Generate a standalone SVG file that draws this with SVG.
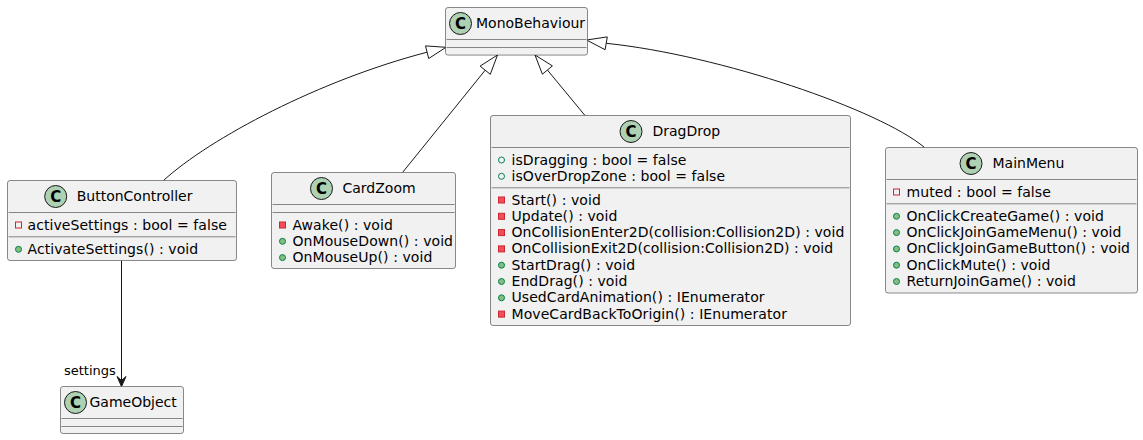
<svg xmlns="http://www.w3.org/2000/svg" width="1143" height="440" viewBox="0 0 1143 440">
<style>
text{font-family:"DejaVu Sans","Liberation Sans",sans-serif;font-size:14px;fill:#000}
.m{letter-spacing:0.07px}
.box{fill:#F1F1F1;stroke:#181818;stroke-width:0.5}
.sep{stroke:#181818;stroke-width:0.5}
.ci{fill:#ADD1B2;stroke:#181818;stroke-width:1}
.cl{font-weight:bold;font-size:15px;text-anchor:middle}
.pf{fill:none;stroke:#C82930;stroke-width:1}
.pm{fill:#F24D5C;stroke:#C82930;stroke-width:1}
.uf{fill:none;stroke:#038048;stroke-width:1}
.um{fill:#84BE84;stroke:#038048;stroke-width:1}
.edge{fill:none;stroke:#181818;stroke-width:1}
.ext{fill:#FFFFFF;stroke:#181818;stroke-width:1}
.lbl{font-size:13px}
</style>
<rect width="1143" height="440" fill="#FFFFFF"/>

<g id="connectors">
  <path class="edge" d="M163.5,180.5 C210,138 320,80 427.1,52.2"/>
  <polygon class="ext" points="446,47.3 428.7,58.5 425.5,45.9"/>
  <line class="edge" x1="402.5" y1="172.5" x2="485.2" y2="70.2"/>
  <polygon class="ext" points="497.5,55 490.3,74.3 480.1,66.1"/>
  <line class="edge" x1="585" y1="115.5" x2="547.4" y2="70"/>
  <polygon class="ext" points="535,55 552.4,65.9 542.4,74.2"/>
  <path class="edge" d="M924.5,147.5 C880,110 720,55 606.2,43.3"/>
  <polygon class="ext" points="586.5,40 607.3,36.9 605.1,49.7"/>
  <line class="edge" x1="121.5" y1="260.5" x2="121.5" y2="381"/>
  <polygon points="121.5,386.5 126,376.5 121.5,380.5 117,376.5" fill="#181818" stroke="#181818" stroke-width="1"/>
  <text class="lbl" x="64" y="375">settings</text>
</g>

<g id="MonoBehaviour">
  <rect class="box" x="445.5" y="7.5" width="142" height="47.6" rx="2.5" ry="2.5"/>
  <circle class="ci" cx="460.5" cy="23.5" r="11"/>
  <text class="cl" x="460.5" y="28.8">C</text>
  <text x="476" y="28.3">MonoBehaviour</text>
  <line class="sep" x1="446.5" y1="39.5" x2="586.5" y2="39.5"/>
  <line class="sep" x1="446.5" y1="47.5" x2="586.5" y2="47.5"/>
</g>

<g id="ButtonController">
  <rect class="box" x="7.5" y="180.5" width="229" height="80" rx="2.5" ry="2.5"/>
  <circle class="ci" cx="55.7" cy="196.5" r="11"/>
  <text class="cl" x="55.7" y="201.8">C</text>
  <text x="76.7" y="201.3">ButtonController</text>
  <line class="sep" x1="8.5" y1="212.5" x2="235.5" y2="212.5"/>
  <rect class="pf" x="15.5" y="222" width="6" height="6"/>
  <text class="m" x="27.5" y="229.5">activeSettings : bool = false</text>
  <line class="sep" x1="8.5" y1="236.8" x2="235.5" y2="236.8"/>
  <circle class="um" cx="18.5" cy="249.3" r="3"/>
  <text class="m" x="27.5" y="253.8">ActivateSettings() : void</text>
</g>

<g id="CardZoom">
  <rect class="box" x="271.5" y="172.5" width="184" height="96" rx="2.5" ry="2.5"/>
  <circle class="ci" cx="321.5" cy="188.5" r="11"/>
  <text class="cl" x="321.5" y="193.8">C</text>
  <text x="342.5" y="193.3">CardZoom</text>
  <line class="sep" x1="272.5" y1="204.5" x2="454.5" y2="204.5"/>
  <line class="sep" x1="272.5" y1="212.5" x2="454.5" y2="212.5"/>
  <rect class="pm" x="279.5" y="222" width="6" height="6"/>
  <text class="m" x="292.5" y="229.5">Awake() : void</text>
  <circle class="um" cx="282.5" cy="241.3" r="3"/>
  <text class="m" x="292.5" y="245.8">OnMouseDown() : void</text>
  <circle class="um" cx="282.5" cy="257.6" r="3"/>
  <text class="m" x="292.5" y="262.1">OnMouseUp() : void</text>
</g>

<g id="DragDrop">
  <rect class="box" x="490.5" y="115.5" width="360" height="210" rx="2.5" ry="2.5"/>
  <circle class="ci" cx="631" cy="131.5" r="11"/>
  <text class="cl" x="631" y="136.8">C</text>
  <text x="652.5" y="136.3">DragDrop</text>
  <line class="sep" x1="491.5" y1="147.5" x2="849.5" y2="147.5"/>
  <circle class="uf" cx="501.5" cy="160" r="3"/>
  <text class="m" x="511.5" y="164.5">isDragging : bool = false</text>
  <circle class="uf" cx="501.5" cy="176.3" r="3"/>
  <text class="m" x="511.5" y="180.8">isOverDropZone : bool = false</text>
  <line class="sep" x1="491.5" y1="187.8" x2="849.5" y2="187.8"/>
  <rect class="pm" x="498.5" y="197" width="6" height="6"/>
  <text class="m" x="511.5" y="204.5">Start() : void</text>
  <rect class="pm" x="498.5" y="213.3" width="6" height="6"/>
  <text class="m" x="511.5" y="220.8">Update() : void</text>
  <rect class="pm" x="498.5" y="229.6" width="6" height="6"/>
  <text class="m" x="511.5" y="237.1">OnCollisionEnter2D(collision:Collision2D) : void</text>
  <rect class="pm" x="498.5" y="245.9" width="6" height="6"/>
  <text class="m" x="511.5" y="253.4">OnCollisionExit2D(collision:Collision2D) : void</text>
  <circle class="um" cx="501.5" cy="265.2" r="3"/>
  <text class="m" x="511.5" y="269.7">StartDrag() : void</text>
  <circle class="um" cx="501.5" cy="281.5" r="3"/>
  <text class="m" x="511.5" y="286">EndDrag() : void</text>
  <circle class="um" cx="501.5" cy="297.8" r="3"/>
  <text class="m" x="511.5" y="302.3">UsedCardAnimation() : IEnumerator</text>
  <rect class="pm" x="498.5" y="311.1" width="6" height="6"/>
  <text class="m" x="511.5" y="318.6">MoveCardBackToOrigin() : IEnumerator</text>
</g>

<g id="MainMenu">
  <rect class="box" x="885.5" y="147.5" width="252" height="145.5" rx="2.5" ry="2.5"/>
  <circle class="ci" cx="971" cy="163.5" r="11"/>
  <text class="cl" x="971" y="168.8">C</text>
  <text x="992.5" y="168.3">MainMenu</text>
  <line class="sep" x1="886.5" y1="179.5" x2="1136.5" y2="179.5"/>
  <rect class="pf" x="893.5" y="189" width="6" height="6"/>
  <text class="m" x="906.5" y="196.5">muted : bool = false</text>
  <line class="sep" x1="886.5" y1="203.8" x2="1136.5" y2="203.8"/>
  <circle class="um" cx="896.5" cy="216.3" r="3"/>
  <text class="m" x="906.5" y="220.8">OnClickCreateGame() : void</text>
  <circle class="um" cx="896.5" cy="232.6" r="3"/>
  <text class="m" x="906.5" y="237.1">OnClickJoinGameMenu() : void</text>
  <circle class="um" cx="896.5" cy="248.9" r="3"/>
  <text class="m" x="906.5" y="253.4">OnClickJoinGameButton() : void</text>
  <circle class="um" cx="896.5" cy="265.2" r="3"/>
  <text class="m" x="906.5" y="269.7">OnClickMute() : void</text>
  <circle class="um" cx="896.5" cy="281.5" r="3"/>
  <text class="m" x="906.5" y="286">ReturnJoinGame() : void</text>
</g>

<g id="GameObject">
  <rect class="box" x="60.5" y="386.5" width="123" height="47" rx="2.5" ry="2.5"/>
  <circle class="ci" cx="75.5" cy="402.5" r="11"/>
  <text class="cl" x="75.5" y="407.8">C</text>
  <text x="89.5" y="407.3">GameObject</text>
  <line class="sep" x1="61.5" y1="418.5" x2="182.5" y2="418.5"/>
  <line class="sep" x1="61.5" y1="426.5" x2="182.5" y2="426.5"/>
</g>
</svg>
